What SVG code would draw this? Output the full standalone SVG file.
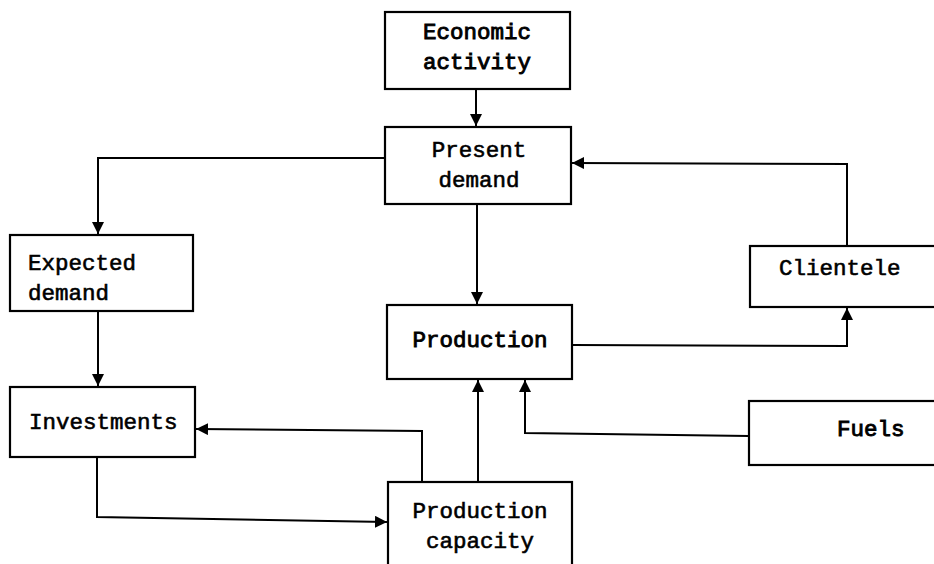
<svg xmlns="http://www.w3.org/2000/svg" width="934" height="564" viewBox="0 0 934 564">
<style>
.box{fill:#fff;stroke:#000;stroke-width:2.2}
.t{font-family:"Liberation Mono","Courier New",monospace;font-size:22.5px;fill:#000;stroke:#000;stroke-width:0.6}
.b{stroke-width:0.9}
.c{text-anchor:middle}
.ln{fill:none;stroke:#000;stroke-width:2}
</style>
<defs>
<marker id="ah" viewBox="0 0 10 10" refX="10" refY="5" markerWidth="6" markerHeight="6" orient="auto" markerUnits="strokeWidth">
<path d="M0,0 L10,5 L0,10 z" fill="#000"/>
</marker>
</defs>
<rect width="934" height="564" fill="#fff"/>
<g id="connectors">
<path class="ln" d="M476,89 L476,126" marker-end="url(#ah)"/>
<path class="ln" d="M385,158 L98,158 L98,234" marker-end="url(#ah)"/>
<path class="ln" d="M477,204 L477,304" marker-end="url(#ah)"/>
<path class="ln" d="M98,311 L98,386" marker-end="url(#ah)"/>
<path class="ln" d="M847,246 L847,164 L572,163" marker-end="url(#ah)"/>
<path class="ln" d="M572,345 L847,346 L847,308" marker-end="url(#ah)"/>
<path class="ln" d="M478,482 L478,380" marker-end="url(#ah)"/>
<path class="ln" d="M422,482 L422,431 L196,429" marker-end="url(#ah)"/>
<path class="ln" d="M749,436 L525,433 L525,380" marker-end="url(#ah)"/>
<path class="ln" d="M97,457 L97,517 L387,522" marker-end="url(#ah)"/>
</g>
<g id="economic-activity">
<rect class="box" x="385" y="12" width="185" height="77"/>
<text class="t b c" x="477" y="39">Economic</text>
<text class="t b c" x="477" y="69">activity</text>
</g>
<g id="present-demand">
<rect class="box" x="385" y="127" width="186" height="77"/>
<text class="t c" x="479" y="157">Present</text>
<text class="t c" x="479" y="187">demand</text>
</g>
<g id="expected-demand">
<rect class="box" x="10" y="235" width="183" height="76"/>
<text class="t" x="28" y="270">Expected</text>
<text class="t" x="28" y="300">demand</text>
</g>
<g id="investments">
<rect class="box" x="10" y="387" width="185" height="70"/>
<text class="t" x="29" y="429">Investments</text>
</g>
<g id="production">
<rect class="box" x="387" y="305" width="185" height="74"/>
<text class="t b c" x="480" y="347">Production</text>
</g>
<g id="production-capacity">
<rect class="box" x="388" y="482" width="184" height="100"/>
<text class="t c" x="480" y="518">Production</text>
<text class="t c" x="480" y="548">capacity</text>
</g>
<g id="clientele">
<rect class="box" x="750" y="246" width="200" height="61"/>
<text class="t" x="779" y="275">Clientele</text>
</g>
<g id="fuels">
<rect class="box" x="749" y="401" width="200" height="64"/>
<text class="t b" x="837" y="436">Fuels</text>
</g>
</svg>
